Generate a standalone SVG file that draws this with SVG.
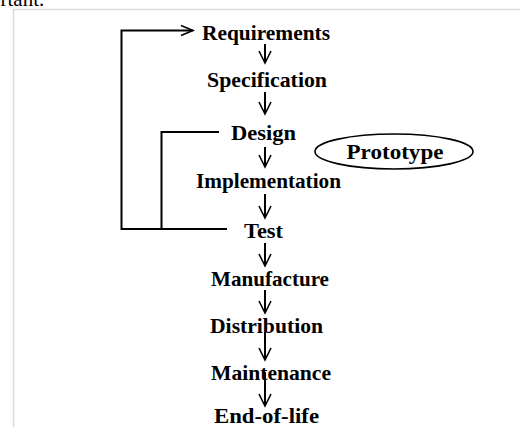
<svg xmlns="http://www.w3.org/2000/svg" width="520" height="427" viewBox="0 0 520 427">
<defs>
<style>
.t{font-family:"Liberation Serif","Times New Roman",serif;font-weight:bold;font-size:22px;fill:#000;text-anchor:middle}
.ln{fill:none;stroke:#000;stroke-width:2}
.hd{fill:none;stroke:#000;stroke-width:1.6}
</style>
</defs>
<rect width="520" height="427" fill="#fff"/>
<text x="-10" y="6" font-family="Liberation Serif, serif" font-size="21" fill="#000">ortant.</text>
<rect x="13.5" y="9.5" width="520" height="430" fill="none" stroke="#dcdcdc" stroke-width="1.5"/>
<g id="connectors">
<path class="ln" d="M227,229 H121.5 V30.5 H193"/>
<path class="hd" d="M181,25.5 L193,30.5 L181,35.5"/>
<path class="ln" d="M161.5,229 V132 H219"/>
<path class="ln" d="M265,44 V62"/><path class="hd" d="M259,51 L265,63 L271,51"/>
<path class="ln" d="M265,92 V113"/><path class="hd" d="M259,102 L265,114 L271,102"/>
<path class="ln" d="M265,147 V166"/><path class="hd" d="M259,155 L265,167 L271,155"/>
<path class="ln" d="M265,194 V217"/><path class="hd" d="M259,206 L265,218 L271,206"/>
<path class="ln" d="M265,243 V265"/><path class="hd" d="M259,254 L265,266 L271,254"/>
<path class="ln" d="M265,290 V312"/><path class="hd" d="M259,301 L265,313 L271,301"/>
<path class="ln" d="M265,332 V359"/><path class="hd" d="M259,348 L265,360 L271,348"/>
<path class="ln" d="M265,372 V405"/><path class="hd" d="M259,394 L265,406 L271,394"/>
</g>
<g id="requirements"><text class="t" x="266" y="40" textLength="128" lengthAdjust="spacingAndGlyphs">Requirements</text></g>
<g id="specification"><text class="t" x="267" y="87" textLength="120" lengthAdjust="spacingAndGlyphs">Specification</text></g>
<g id="design"><text class="t" x="263.5" y="140" textLength="65" lengthAdjust="spacingAndGlyphs">Design</text></g>
<g id="implementation"><text class="t" x="268.5" y="188" textLength="145" lengthAdjust="spacingAndGlyphs">Implementation</text></g>
<g id="test"><text class="t" x="263.5" y="238" textLength="39" lengthAdjust="spacingAndGlyphs">Test</text></g>
<g id="manufacture"><text class="t" x="270" y="286" textLength="118" lengthAdjust="spacingAndGlyphs">Manufacture</text></g>
<g id="distribution"><text class="t" x="266.5" y="333" textLength="113" lengthAdjust="spacingAndGlyphs">Distribution</text></g>
<g id="maintenance"><text class="t" x="271" y="380" textLength="120" lengthAdjust="spacingAndGlyphs">Maintenance</text></g>
<g id="end-of-life"><text class="t" x="266.5" y="423" textLength="105" lengthAdjust="spacingAndGlyphs">End-of-life</text></g>
<g id="prototype">
<ellipse cx="394" cy="151.5" rx="79" ry="17.5" fill="none" stroke="#000" stroke-width="1.6"/>
<text class="t" x="395" y="159" textLength="97" lengthAdjust="spacingAndGlyphs">Prototype</text>
</g>
</svg>
